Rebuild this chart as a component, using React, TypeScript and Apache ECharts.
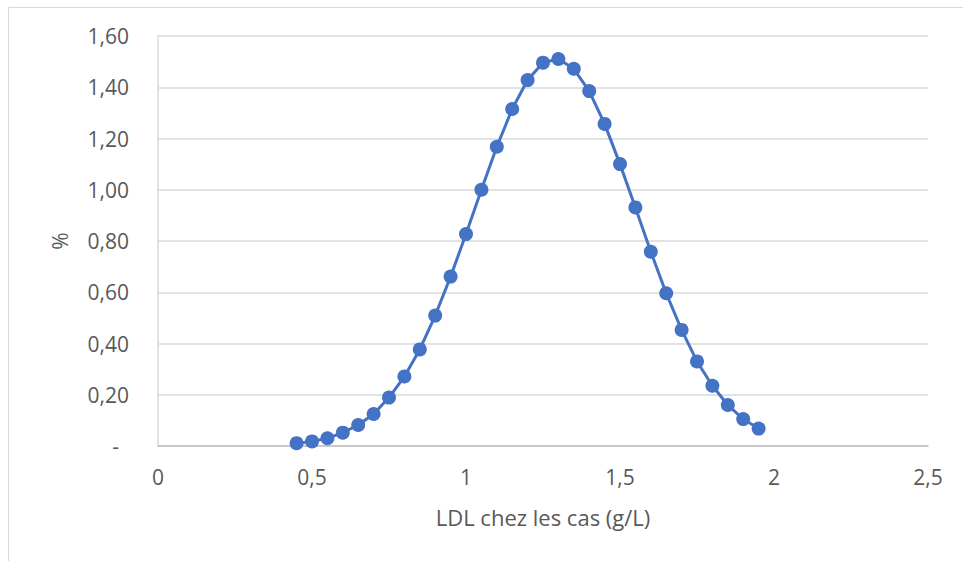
import React, { useEffect, useRef } from "react";
import * as echarts from "echarts";

const xValues = [0.45, 0.5, 0.55, 0.6, 0.65, 0.7, 0.75, 0.8, 0.85, 0.9, 0.95, 1.0, 1.05, 1.1, 1.15, 1.2, 1.25, 1.3, 1.35, 1.4, 1.45, 1.5, 1.55, 1.6, 1.65, 1.7, 1.75, 1.8, 1.85, 1.9, 1.95];
const yValues = [0.011, 0.018, 0.03, 0.052, 0.082, 0.125, 0.189, 0.271, 0.377, 0.509, 0.661, 0.827, 1.0, 1.168, 1.315, 1.428, 1.496, 1.51, 1.472, 1.385, 1.257, 1.1, 0.931, 0.758, 0.596, 0.453, 0.33, 0.235, 0.16, 0.105, 0.068];
const xAxisTitle = "LDL chez les cas (g/L)";
const yAxisTitle = "%";

const FONT = "'Open Sans', 'Noto Sans', sans-serif";
const TEXT = "#595959";

export default function App() {
  const ref = useRef<HTMLDivElement>(null);
  useEffect(() => {
    if (!ref.current) return;
    const chart = echarts.init(ref.current, undefined, { renderer: "svg" });
    chart.setOption({
      animation: false,
      backgroundColor: "#ffffff",
      textStyle: { fontFamily: FONT },
      graphic: [
        {
          type: "rect",
          shape: { x: 8.5, y: 7.5, width: 1000, height: 600 },
          style: { fill: "none", stroke: "#D9D9D9", lineWidth: 1 },
          silent: true,
        },
      ],
      grid: { left: 158, right: 35, top: 36, bottom: 115 },
      xAxis: {
        type: "value",
        min: 0,
        max: 2.5,
        interval: 0.5,
        name: xAxisTitle,
        nameLocation: "middle",
        nameGap: 60,
        nameTextStyle: { color: TEXT, fontSize: 22, fontFamily: FONT },
        axisLine: { show: true, lineStyle: { color: "#BFBFBF", width: 1.5 } },
        axisTick: { show: false },
        splitLine: { show: false },
        axisLabel: {
          color: TEXT,
          fontSize: 21,
          fontFamily: FONT,
          margin: 20,
          formatter: (v: number) => String(v).replace(".", ","),
        },
      },
      yAxis: {
        type: "value",
        min: 0,
        max: 1.6,
        interval: 0.2,
        name: yAxisTitle,
        nameLocation: "middle",
        nameGap: 88,
        nameRotate: 90,
        nameTextStyle: { color: TEXT, fontSize: 21, fontFamily: FONT },
        axisLine: { show: true, lineStyle: { color: "#D9D9D9", width: 1.5 } },
        axisTick: { show: false },
        splitLine: { show: true, lineStyle: { color: "#D9D9D9", width: 1.5 } },
        axisLabel: {
          color: TEXT,
          fontSize: 21,
          fontFamily: FONT,
          margin: 29,
          formatter: (v: number) => (v === 0 ? "{z|-}" : v.toFixed(2).replace(".", ",")),
          rich: { z: { color: TEXT, fontSize: 21, fontFamily: FONT, padding: [0, 10, 0, 0] } },
        },
      },
      series: [
        {
          type: "line",
          data: xValues.map((x, i) => [x, yValues[i]]),
          symbol: "circle",
          symbolSize: 14,
          showSymbol: true,
          lineStyle: { color: "#4472C4", width: 3 },
          itemStyle: { color: "#4472C4" },
        },
      ],
    });
    return () => chart.dispose();
  }, []);
  return <div ref={ref} style={{ position: "fixed", left: 0, top: 0, width: 963, height: 561 }} />;
}
